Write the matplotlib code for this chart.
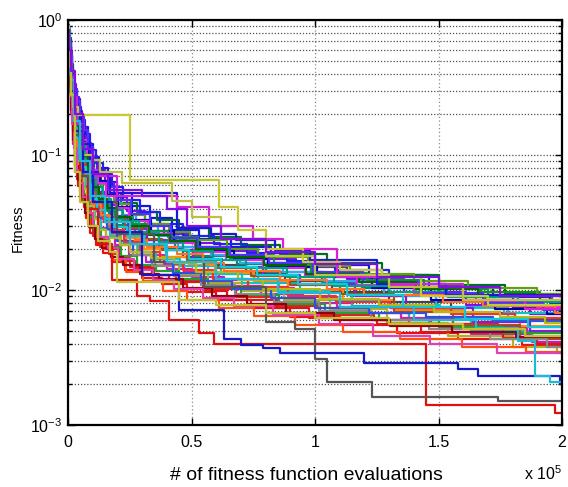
import matplotlib
matplotlib.use('Agg')
import matplotlib.pyplot as plt
from matplotlib.ticker import LogLocator, FixedLocator, NullFormatter, FixedFormatter

plt.rcParams['font.family'] = ['Liberation Sans', 'DejaVu Sans']
plt.rcParams['mathtext.fontset'] = 'custom'
plt.rcParams['mathtext.rm'] = 'Liberation Sans'
plt.rcParams['mathtext.it'] = 'Liberation Sans'
plt.rcParams['axes.unicode_minus'] = False

# ---- data: x in units of 1e5 fitness evaluations, y = best fitness so far ----
xb01 = [0, .005, .011, .018, .026, .036, .048, .062, .08, .1, .125, .16, .2, .26, .33, .42, .53, .66, .82, 1.0, 1.22, 1.46, 1.72, 1.95, 2.0]
yb01 = [.92, .73, .54, .39, .31, .26, .2, .16, .12, .096, .08, .063, .052, .042, .034, .028, .024, .021, .018, .0154, .013, .0104, .0088, .008, .008]
xb02 = [0, .003, .008, .014, .021, .03, .041, .055, .071, .09, .113, .143, .18, .23, .3, .38, .48, .6, .74, .9, 1.1, 1.33, 1.58, 1.84, 2.0]
yb02 = [.7, .42, .31, .205, .12, .075, .059, .045, .034, .0265, .0215, .0187, .0161, .014, .0122, .0111, .0096, .0084, .0073, .0063, .0055, .0048, .0043, .0039, .0039]
xb03 = [0, .006, .013, .02, .028, .039, .051, .066, .085, .107, .135, .17, .215, .28, .36, .45, .57, .7, .86, 1.05, 1.27, 1.5, 1.77, 2.0]
yb03 = [.88, .63, .43, .29, .233, .192, .154, .12, .091, .074, .061, .052, .044, .038, .033, .0286, .0247, .0214, .0185, .0158, .013, .0109, .0093, .0093]
xb04 = [0, .004, .01, .016, .024, .033, .044, .058, .075, .095, .12, .152, .19, .245, .315, .4, .5, .63, .78, .95, 1.15, 1.38, 1.63, 1.88, 2.0]
yb04 = [.76, .46, .335, .226, .143, .098, .077, .06, .045, .035, .0287, .0245, .0215, .0182, .0161, .0144, .0124, .0107, .0094, .008, .0068, .0056, .0047, .0041, .0041]
xb05 = [0, .004, .009, .016, .023, .033, .044, .057, .074, .093, .118, .15, .188, .245, .31, .395, .5, .62, .77, .94, 1.15, 1.38, 1.63, 1.88, 2.0]
yb05 = [.85, .59, .43, .304, .22, .169, .13, .104, .078, .062, .052, .0406, .0328, .0261, .0214, .0175, .015, .0131, .0113, .0096, .0076, .0061, .005, .0046, .0046]
xb06 = [0, .004, .009, .015, .022, .032, .043, .057, .074, .094, .117, .148, .186, .238, .31, .39, .495, .615, .76, .925, 1.13, 1.36, 1.61, 1.87, 2.0]
yb06 = [.9, .7, .59, .44, .336, .27, .212, .162, .122, .095, .077, .0617, .0488, .0387, .031, .0259, .0224, .0196, .0171, .0147, .012, .0096, .0077, .0066, .0066]
xb07 = [0, .005, .012, .019, .027, .037, .049, .063, .082, .103, .13, .164, .208, .27, .348, .436, .553, .68, .838, 1.02, 1.24, 1.47, 1.74, 2.0]
yb07 = [.7, .37, .25, .154, .099, .066, .053, .041, .031, .025, .021, .0185, .0164, .0145, .013, .0118, .0102, .0088, .0076, .0065, .006, .0056, .0053, .0053]
xb08 = [0, .005, .011, .017, .025, .035, .046, .061, .078, .099, .125, .158, .198, .255, .328, .415, .52, .655, .81, .985, 1.19, 1.42, 1.67, 1.91, 2.0]
yb08 = [.82, .58, .42, .297, .205, .154, .121, .094, .07, .055, .045, .0384, .034, .029, .026, .0234, .0202, .0174, .0152, .013, .0117, .0106, .0097, .0091, .0091]
xb09 = [0, .006, .013, .02, .029, .04, .053, .068, .087, .108, .134, .171, .215, .278, .352, .448, .565, .705, .875, 1.06, 1.29, 1.54, 1.8, 1.98, 2.0]
yb09 = [.78, .465, .34, .228, .151, .104, .08, .064, .048, .0384, .032, .026, .0218, .0181, .0154, .0131, .0113, .0098, .0085, .0072, .0057, .0046, .0038, .0034, .0034]
xb10 = [0, .003, .007, .013, .02, .028, .039, .052, .068, .086, .108, .137, .173, .222, .29, .368, .465, .585, .72, .88, 1.07, 1.3, 1.55, 1.81, 2.0]
yb10 = [.83, .62, .48, .346, .243, .18, .142, .108, .082, .064, .052, .0425, .0348, .0285, .0235, .0204, .0176, .0154, .0134, .0116, .0097, .0081, .0068, .006, .006]
xb11 = [0, .006, .014, .021, .03, .041, .054, .069, .089, .112, .141, .177, .224, .29, .373, .466, .59, .723, .885, 1.08, 1.3, 1.53, 1.8, 2.0]
yb11 = [.9, .69, .47, .323, .267, .228, .182, .143, .108, .087, .072, .058, .0467, .0376, .0306, .0252, .0218, .0189, .0164, .014, .011, .009, .0074, .0074]
xb12 = [0, .003, .009, .015, .022, .031, .042, .055, .071, .091, .115, .146, .183, .236, .303, .386, .483, .61, .755, .92, 1.115, 1.345, 1.595, 1.855, 2.0]
yb12 = [.74, .426, .31, .206, .126, .084, .066, .051, .0384, .03, .0246, .02, .0168, .0137, .0116, .0099, .0085, .0074, .0064, .0055, .0049, .0043, .0038, .0035, .0035]
xb13 = [0, .005, .01, .019, .027, .035, .05, .066, .077, .104, .122, .165, .195, .27, .32, .435, .515, .685, .8, 1.03, 1.19, 1.5, 1.69, 1.92, 2.0]
yb13 = [.8, .52, .38, .26, .18, .13, .1, .08, .06, .048, .04, .0342, .0301, .0262, .0235, .021, .018, .0157, .0136, .0115, .0103, .009, .0082, .0074, .0074]
xb14 = [0, .003, .009, .014, .023, .031, .04, .058, .07, .093, .11, .147, .176, .236, .295, .39, .47, .61, .73, .915, 1.09, 1.35, 1.56, 1.86, 2.0]
yb14 = [.79, .57, .42, .29, .193, .135, .106, .081, .061, .048, .0387, .032, .0264, .0218, .0181, .0157, .0136, .0119, .0104, .0089, .0075, .0062, .0052, .0045, .0045]
xb15 = [0, .007, .013, .02, .029, .038, .052, .065, .087, .105, .138, .168, .22, .276, .366, .445, .578, .695, .87, 1.04, 1.28, 1.49, 1.78, 2.0]
yb15 = [.86, .59, .4, .27, .209, .168, .134, .105, .08, .064, .053, .0438, .0362, .0299, .025, .021, .0181, .0158, .0136, .0116, .0091, .0075, .0062, .0062]
xb16 = [0, .004, .011, .016, .026, .034, .043, .06, .074, .098, .118, .156, .187, .252, .31, .41, .495, .645, .77, .97, 1.14, 1.4, 1.62, 1.9, 2.0]
yb16 = [.87, .64, .49, .357, .263, .21, .165, .128, .096, .075, .0615, .051, .0435, .036, .031, .027, .0233, .0201, .0176, .015, .0132, .0116, .0103, .0094, .0094]
xb17 = [0, .004, .012, .017, .024, .038, .046, .059, .083, .096, .13, .155, .207, .252, .342, .41, .548, .645, .845, .975, 1.25, 1.43, 1.76, 1.9, 2.0]
yb17 = [.72, .4, .29, .19, .12, .078, .06, .048, .036, .029, .024, .0201, .0174, .0148, .013, .0114, .0098, .0085, .0073, .0062, .0056, .0049, .0044, .004, .004]
xb18 = [0, .004, .008, .016, .021, .029, .043, .054, .073, .088, .116, .14, .184, .226, .306, .374, .49, .595, .752, .89, 1.115, 1.32, 1.6, 1.83, 2.0]
yb18 = [.8, .6, .44, .31, .21, .15, .118, .09, .068, .053, .043, .0356, .0294, .0242, .0202, .0176, .0152, .0133, .0116, .01, .0085, .0071, .0061, .0054, .0054]
xb19 = [0, .006, .012, .021, .028, .04, .05, .067, .084, .109, .133, .172, .212, .284, .355, .455, .565, .705, .855, 1.055, 1.265, 1.505, 1.765, 2.0]
yb19 = [.77, .43, .29, .185, .127, .09, .072, .056, .043, .0345, .0285, .025, .0219, .0192, .017, .0151, .0131, .0113, .0098, .0084, .0078, .0073, .0068, .0068]
xb20 = [0, .005, .009, .017, .023, .032, .047, .057, .077, .093, .123, .149, .194, .241, .321, .394, .507, .622, .788, .94, 1.16, 1.37, 1.64, 1.87, 2.0]
yb20 = [.84, .6, .456, .328, .234, .182, .143, .11, .083, .065, .053, .0428, .0354, .0283, .0236, .0198, .017, .0147, .0129, .011, .0091, .0073, .0058, .005, .005]
xb21 = [0, .006, .011, .018, .025, .034, .052, .064, .079, .101, .128, .158, .202, .258, .336, .428, .535, .672, .81, 1.01, 1.23, 1.47, 1.73, 1.94, 2.0]
yb21 = [.87, .63, .48, .345, .262, .208, .16, .128, .096, .077, .064, .0505, .041, .0331, .0274, .0228, .0195, .017, .0147, .0125, .0103, .0084, .0072, .0066, .0066]
xb22 = [0, .003, .007, .012, .019, .027, .037, .05, .065, .083, .104, .132, .167, .215, .28, .355, .45, .565, .7, .855, 1.04, 1.26, 1.5, 1.76, 2.0]
yb22 = [.74, .48, .355, .24, .149, .0975, .077, .0585, .044, .0345, .028, .0241, .0207, .0178, .0153, .0139, .012, .0105, .0092, .0079, .0068, .006, .0053, .0048, .0048]
xb23 = [0, .005, .012, .022, .031, .042, .055, .07, .09, .115, .142, .18, .23, .3, .38, .48, .6, .74, .9, 1.1, 1.32, 1.56, 1.83, 2.0]
yb23 = [.82, .525, .357, .233, .173, .132, .106, .0825, .063, .0506, .0418, .0346, .0286, .0237, .0199, .0168, .0145, .0126, .0109, .0093, .0069, .0055, .0043, .0043]
xb24 = [0, .004, .01, .018, .027, .037, .049, .064, .082, .104, .13, .165, .206, .265, .34, .43, .54, .675, .835, 1.015, 1.225, 1.46, 1.71, 1.94, 2.0]
yb24 = [.78, .507, .369, .254, .167, .119, .0935, .072, .0544, .0425, .0349, .0279, .0229, .0182, .0151, .0126, .0109, .0094, .0082, .007, .006, .0051, .0043, .0038, .0038]
xb25 = [0, .005, .01, .016, .028, .039, .048, .06, .081, .099, .12, .162, .192, .265, .325, .405, .525, .65, .835, .985, 1.21, 1.44, 1.7, 1.96, 2.0]
yb25 = [.82, .557, .407, .283, .201, .15, .115, .092, .069, .055, .046, .0396, .035, .0306, .0274, .0245, .021, .0183, .0158, .0134, .0118, .0102, .0091, .0083, .0083]
xb26 = [0, .004, .009, .015, .023, .033, .045, .06, .077, .097, .122, .154, .194, .247, .322, .408, .515, .64, .79, .96, 1.17, 1.4, 1.65, 1.9, 2.0]
yb26 = [.86, .66, .53, .388, .283, .218, .171, .13, .099, .077, .062, .05, .0402, .0323, .0261, .0222, .0192, .0168, .0146, .0126, .0109, .0094, .0083, .0075, .0075]
xb27 = [0, .006, .011, .018, .026, .036, .047, .061, .079, .099, .125, .158, .2, .262, .338, .424, .54, .665, .82, 1.0, 1.22, 1.45, 1.72, 2.0]
yb27 = [.79, .47, .323, .207, .147, .108, .0864, .0675, .0513, .0414, .0342, .0282, .0232, .0192, .016, .0134, .0116, .0101, .0087, .0074, .0068, .0063, .0059, .0059]
xb28 = [0, .003, .008, .014, .021, .03, .04, .053, .069, .087, .11, .14, .176, .227, .293, .372, .466, .588, .73, .892, 1.085, 1.305, 1.55, 1.81, 2.0]
yb28 = [.8, .55, .4, .28, .19, .14, .11, .085, .064, .05, .041, .0333, .0278, .0226, .019, .0162, .014, .0121, .0105, .009, .0081, .0073, .0066, .0062, .0062]
xb29 = [0, .004, .011, .02, .025, .036, .045, .064, .076, .106, .126, .153, .21, .25, .338, .43, .52, .69, .79, 1.02, 1.26, 1.48, 1.75, 1.93, 2.0]
yb29 = [.76, .435, .318, .21, .135, .091, .07, .056, .042, .0336, .028, .0244, .0216, .019, .0173, .0158, .0135, .0118, .0102, .0086, .0078, .0069, .0063, .0057, .0057]
xb30 = [0, .003, .008, .013, .02, .029, .039, .053, .069, .087, .109, .138, .174, .223, .29, .369, .467, .585, .724, .883, 1.077, 1.305, 1.553, 1.815, 2.0]
yb30 = [.71, .445, .326, .217, .13, .0825, .065, .0495, .0374, .0292, .0237, .0205, .0177, .0153, .0132, .012, .0104, .0091, .0079, .0068, .006, .0054, .0049, .0045, .0045]
xb31 = [0, .007, .014, .022, .03, .04, .054, .07, .09, .113, .14, .176, .222, .288, .37, .465, .588, .72, .885, 1.075, 1.3, 1.54, 1.82, 2.0]
yb31 = [.84, .56, .38, .251, .191, .15, .12, .094, .071, .0575, .0475, .0394, .0327, .0271, .0228, .0193, .0167, .0145, .0125, .0107, .0097, .0088, .0081, .0081]
xb32 = [0, .005, .011, .018, .026, .036, .048, .063, .08, .101, .127, .16, .2, .257, .33, .418, .522, .656, .812, .99, 1.195, 1.428, 1.68, 1.925, 2.0]
yb32 = [.9, .68, .54, .4, .304, .252, .198, .153, .115, .09, .074, .0578, .0464, .0365, .0296, .0243, .0209, .0181, .0158, .0135, .0115, .0095, .008, .0071, .0071]
xb33 = [0, .005, .012, .018, .03, .037, .051, .061, .085, .097, .132, .168, .198, .272, .318, .44, .545, .63, .86, 1.05, 1.2, 1.52, 1.68, 1.97, 2.0]
yb33 = [.79, .493, .36, .244, .165, .117, .09, .072, .054, .0432, .036, .0307, .0269, .0233, .0207, .0184, .0158, .0138, .0119, .0101, .0092, .0082, .0076, .0068, .0068]
xb34 = [0, .004, .009, .016, .024, .034, .046, .061, .079, .1, .125, .157, .197, .25, .326, .412, .52, .645, .795, .965, 1.18, 1.41, 1.66, 1.91, 2.0]
yb34 = [.82, .6, .46, .33, .227, .165, .13, .099, .075, .058, .0473, .0407, .0347, .0298, .0256, .0231, .02, .0175, .0153, .0131, .0115, .0102, .0092, .0084, .0084]
xb35 = [0, .005, .011, .018, .025, .035, .047, .061, .08, .1, .127, .16, .204, .266, .343, .43, .546, .672, .83, 1.015, 1.235, 1.465, 1.735, 2.0]
yb35 = [.73, .403, .274, .17, .113, .078, .0624, .0488, .037, .03, .0247, .0205, .017, .0141, .0119, .0101, .0087, .0076, .0065, .0056, .0046, .004, .0034, .0034]
xb36 = [0, .004, .009, .015, .023, .032, .043, .056, .073, .092, .117, .148, .186, .24, .308, .392, .49, .618, .765, .933, 1.13, 1.357, 1.606, 1.862, 2.0]
yb36 = [.8, .536, .39, .272, .182, .133, .1045, .081, .061, .0475, .039, .0333, .0293, .025, .0221, .0198, .0171, .0147, .0129, .011, .0092, .0075, .0061, .0053, .0053]

# distinct runs that stand out from the bundle
xo01 = [0, .004, .01, .018, .03, .05, .09, .17, .44, .58, .68, .84, .98, 1.25, 1.53, 2.0]
yo01 = [.85, .6, .45, .3, .2, .12, .075, .052, .029, .026, .0235, .0198, .0167, .011, .0092, .0092]
xo02 = [0, .005, .012, .02, .035, .06, .1, .2, .44, .57, .75, .87, 1.09, 1.3, 1.6, 1.85, 2.0]
yo02 = [.8, .55, .38, .27, .17, .11, .07, .05, .041, .03, .024, .02, .0125, .011, .0085, .0072, .0072]
xo03 = [0, .005, .012, .02, .04, .25, .61, .69, .8, .95, 1.1, 1.27, 1.43, 1.7, 2.0]
yo03 = [.9, .55, .3, .227, .198, .065, .041, .028, .02, .016, .014, .0125, .009, .0078, .0078]
xo04 = [0, .006, .014, .025, .06, .1, .13, .22, .42, .5, .62, .8, 1.0, 1.3, 1.6, 2.0]
yo04 = [.8, .5, .3, .2, .1, .092, .075, .062, .046, .035, .024, .018, .013, .0105, .0085, .0085]
xo05 = [0, .005, .012, .025, .05, .08, .12, .18, .28, .33, .41, .53, .59, 1.45, 1.97, 2.0]
yo05 = [.8, .5, .3, .15, .07, .04, .022, .0118, .009, .0083, .006, .0048, .004, .0014, .00123, .00123]
xo06 = [0, .005, .012, .03, .06, .1, .2, .35, .55, .8, .92, 1.0, 1.05, 1.23, 1.74, 2.0]
yo06 = [.75, .45, .28, .14, .07, .045, .026, .016, .0105, .0058, .0051, .0031, .0021, .00162, .0015, .0015]
xo07 = [0, .005, .012, .03, .06, .1, .18, .3, .45, .63, .7, .79, .86, 1.2, 1.58, 1.66, 1.99, 2.0]
yo07 = [.8, .48, .3, .15, .075, .045, .027, .013, .0071, .0043, .0039, .0037, .0034, .0029, .0026, .0023, .0020, .0020]
xo08 = [0, .005, .012, .025, .05, .09, .15, .25, .4, .6, .85, 1.1, 1.4, 1.65, 1.82, 1.89, 1.95, 2.0]
yo08 = [.8, .52, .36, .18, .09, .05, .032, .022, .016, .012, .0095, .0075, .006, .0052, .0042, .0023, .0021, .0021]
xo09 = [0, .005, .012, .03, .05, .08, .12, .17, .2, .45, .6, .8, 1.0, 1.3, 1.6, 1.85, 2.0]
yo09 = [.76, .45, .28, .075, .045, .03, .023, .019, .0115, .0085, .0078, .0068, .0062, .0056, .0051, .0046, .0046]
xo10 = [0, .005, .012, .03, .06, .1, .16, .3, .4, .48, .62, .8, 1.0, 1.25, 1.5, 1.75, 2.0]
yo10 = [.85, .6, .42, .2, .11, .072, .055, .05, .04, .03, .024, .019, .0155, .0125, .0105, .009, .009]

bundle_x = [xb01, xb02, xb03, xb04, xb05, xb06, xb07, xb08, xb09, xb10, xb11, xb12,
            xb13, xb14, xb15, xb16, xb17, xb18, xb19, xb20, xb21, xb22, xb23, xb24,
            xb25, xb26, xb27, xb28, xb29, xb30, xb31, xb32, xb33, xb34, xb35, xb36]
bundle_y = [yb01, yb02, yb03, yb04, yb05, yb06, yb07, yb08, yb09, yb10, yb11, yb12,
            yb13, yb14, yb15, yb16, yb17, yb18, yb19, yb20, yb21, yb22, yb23, yb24,
            yb25, yb26, yb27, yb28, yb29, yb30, yb31, yb32, yb33, yb34, yb35, yb36]
bundle_colors = ['#1515E0', '#E81010', '#007020', '#C818C8', '#10B8C8', '#7A10E8',
                 '#E02020', '#189018', '#B0B020', '#454545', '#2020F0', '#FF5010',
                 '#008888', '#D020A8', '#30A8F0', '#60A010', '#D81818', '#FF8C10',
                 '#18C0C0', '#8C18D8', '#0000A8', '#20A030', '#A05020', '#888888',
                 '#109040', '#E028E0', '#3050E0', '#F03030', '#B8B818', '#900010',
                 '#00A080', '#5030FF', '#FF7020', '#006600', '#E040B0', '#10C8D8']
outlier_x = [xo01, xo02, xo03, xo04, xo05, xo06, xo07, xo08, xo09, xo10]
outlier_y = [yo01, yo02, yo03, yo04, yo05, yo06, yo07, yo08, yo09, yo10]
outlier_colors = ['#1818D8', '#D820D8', '#C8C830', '#C0C040', '#E01010', '#555555',
                  '#1818C8', '#20B8D8', '#C0C030', '#8010E0']

x_ticks = [0, 0.5, 1, 1.5, 2]
x_ticklabels = ['0', '0.5', '1', '1.5', '2']

fig = plt.figure(figsize=(5.68, 4.87), dpi=100)
ax = fig.add_axes([68/568, 1-425/487, 494/568, 405/487])

for xs, ys, c in zip(bundle_x, bundle_y, bundle_colors):
    ax.step(xs, ys, where='post', color=c, lw=1.6, zorder=3)
for xs, ys, c in zip(outlier_x, outlier_y, outlier_colors):
    ax.step(xs, ys, where='post', color=c, lw=1.6, zorder=3)

ax.set_yscale('log')
ax.set_xlim(0, 2)
ax.set_ylim(1e-3, 1)
ax.xaxis.set_major_locator(FixedLocator(x_ticks))
ax.xaxis.set_major_formatter(FixedFormatter(x_ticklabels))
ax.yaxis.set_major_locator(LogLocator(base=10, numticks=10))
ax.yaxis.set_minor_locator(LogLocator(base=10, subs=range(2, 10), numticks=20))
ax.yaxis.set_minor_formatter(NullFormatter())

ax.grid(True, which='major', axis='x', linestyle=(0, (1, 2)), color='0.55', lw=0.9, zorder=1)
ax.grid(True, which='both', axis='y', linestyle=(0, (1, 1.5)), color='0.3', lw=0.9, zorder=1)

for s in ax.spines.values():
    s.set_linewidth(1.6)
    s.set_zorder(5)
ax.tick_params(which='both', direction='in', top=True, right=True, labelsize=11.5, width=1)
ax.tick_params(which='major', length=5)
ax.tick_params(which='minor', length=3)
ax.tick_params(axis='x', pad=7)
ax.tick_params(axis='y', pad=4)

fig.text(306/568, 1-476/487, '# of fitness function evaluations', ha='center', va='center', fontsize=14)
fig.text(18/568, 1-228/487, 'Fitness', ha='center', va='center', rotation=90, fontsize=10.5)
fig.text(543/568, 1-474/487, 'x 10$^{5}$', ha='center', va='center', fontsize=11.5)

fig.savefig('out.png', dpi=100)
